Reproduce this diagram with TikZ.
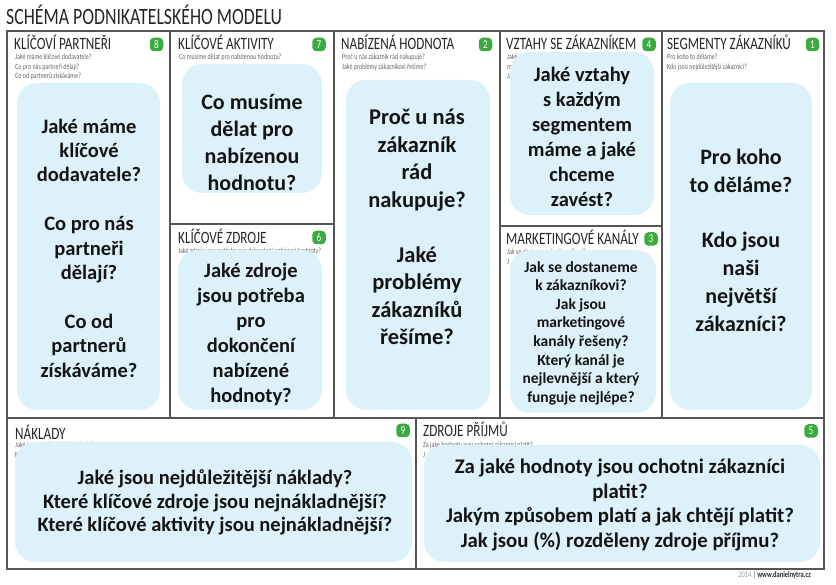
\documentclass[tikz,border=0pt]{standalone}
\usepackage{fontspec}
\setmainfont{Carlito}
\newfontfamily\uzke{Carlito}[FakeStretch=0.76]
\usepackage{xcolor}

\definecolor{modra}{RGB}{220,241,250}
\definecolor{zelena}{RGB}{59,170,65}
\definecolor{ramecsed}{RGB}{85,85,85}

\newcommand{\vel}[2]{\fontsize{#1}{#2}\selectfont}

\tikzset{
  ramec/.style={draw=ramecsed, line width=1.3pt},
  pole/.style={fill=modra, rounded corners=20pt},
  otazka/.style={align=center, inner sep=0pt, text=black!92},
  hlava/.style={anchor=base west, inner sep=0pt, text=black!85, font={\uzke\vel{17.3}{19}}},
  napoveda/.style={anchor=north west, inner sep=0pt, align=left, text=black!60, font={\uzke\vel{7.9}{9.5}}},
  cislo/.style={fill=zelena, rounded corners=4pt, text=white, minimum size=13.5pt, inner sep=0pt, font={\uzke\vel{12}{12}}}
}

\begin{document}
\begin{tikzpicture}[x=1pt, y=-1pt]
    \useasboundingbox (0,0) rectangle (836,585);

    % Nadpis
    \node[anchor=base west, inner sep=0pt, font={\uzke\vel{23.4}{23.4}}, text=black!85] (titul) at (6,25) {SCHÉMA PODNIKATELSKÉHO MODELU};

    % Ramecek a deleni
    \draw[ramec] (7,31) rectangle (824,569);
    \draw[ramec] (170,31) -- (170,418);
    \draw[ramec] (334,31) -- (334,418);
    \draw[ramec] (500,31) -- (500,418);
    \draw[ramec] (662,31) -- (662,418);
    \draw[ramec] (7,418) -- (824,418);
    \draw[ramec] (416,418) -- (416,569);
    \draw[ramec] (170,224) -- (334,224);
    \draw[ramec] (500,226) -- (662,226);

    % Male napovedy (cast schovana pod modrymi poli)
    \node[napoveda] (n8) at (15,54) {Jaké máme klíčové dodavatele?\\Co pro nás partneři dělají?\\Co od partnerů získáváme?};
    \node[napoveda] (n7) at (179,54) {Co musíme dělat pro nabízenou hodnotu?};
    \node[napoveda] (n2) at (342,54) {Proč u nás zákazník rád nakupuje?\\Jaké problémy zákazníkovi řešíme?};
    \node[napoveda] (n4) at (507,54) {Jaké vz\\má\\Jak};
    \node[napoveda] (n1) at (667,54) {Pro koho to děláme?\\Kdo jsou nejdůležitější zákazníci?};
    \node[napoveda] (n6) at (178,247.5) {Jaké zdroje jsou potřeba pro dokončení nabízené hodnoty?};
    \node[napoveda] (n3) at (507,249) {Jak se dostaneme k zákazníkovi?\\J};
    \node[napoveda] (n9) at (15,442) {Jaké jsou nejdůležitější náklady?\\K};
    \node[napoveda] (n5) at (423,442) {Za jaké hodnoty jsou ochotni zákazníci platit?\\J};

    % Modra pole
    \fill[pole] (17,83) rectangle (160,410);
    \fill[pole] (182,64) rectangle (322,193);
    \fill[pole] (178,250) rectangle (322,410);
    \fill[pole] (346,80) rectangle (490,410);
    \fill[pole] (510,52) rectangle (654,215);
    \fill[pole] (510,250) rectangle (656,413);
    \fill[pole] (670,83) rectangle (812,410);
    \fill[pole] (15,442) rectangle (412,562);
    \fill[pole] (424,445) rectangle (820,562);

    % Otazky
    \node[otazka, font={\bfseries\vel{20.5}{24.4}}] (q8) at (89,248)
      {Jaké máme\\klíčové\\dodavatele?\\[24.4pt]Co pro nás\\partneři\\dělají?\\[24.4pt]Co od\\partnerů\\získáváme?};
    \node[otazka, font={\bfseries\vel{22}{27}}] (q7) at (252,142)
      {Co musíme\\dělat pro\\nabízenou\\hodnotu?};
    \node[otazka, font={\bfseries\vel{20.5}{25}}] (q6) at (251,334)
      {Jaké zdroje\\jsou potřeba\\pro\\dokončení\\nabízené\\hodnoty?};
    \node[otazka, font={\bfseries\vel{22.5}{27.5}}] (q2) at (417,227)
      {Proč u nás\\zákazník\\rád\\nakupuje?\\[27.5pt]Jaké\\problémy\\zákazníků\\řešíme?};
    \node[otazka, font={\bfseries\vel{20.5}{25}}] (q4) at (582,137)
      {Jaké vztahy\\s každým\\segmentem\\máme a jaké\\chceme\\zavést?};
    \node[otazka, font={\bfseries\vel{15.5}{18.6}}] (q3) at (581,333)
      {Jak se dostaneme\\k zákazníkovi?\\Jak jsou\\marketingové\\kanály řešeny?\\Který kanál je\\nejlevnější a který\\funguje nejlépe?};
    \node[otazka, font={\bfseries\vel{22}{27.8}}] (q1) at (741,240)
      {Pro koho\\to děláme?\\[27.8pt]Kdo jsou\\naši\\největší\\zákazníci?};
    \node[otazka, font={\bfseries\vel{20.5}{23.5}}] (q9) at (215,502.5)
      {Jaké jsou nejdůležitější náklady?\\Které klíčové zdroje jsou nejnákladnější?\\Které klíčové aktivity jsou nejnákladnější?};
    \node[otazka, font={\bfseries\vel{20.8}{24.5}}] (q5) at (620,505)
      {Za jaké hodnoty jsou ochotni zákazníci\\platit?\\Jakým způsobem platí a jak chtějí platit?\\Jak jsou (\%) rozděleny zdroje příjmu?};

    % Nazvy bloku
    \node[hlava] (h8) at (14,50) {KLÍČOVÍ PARTNEŘI};
    \node[hlava] (h7) at (178,50) {KLÍČOVÉ AKTIVITY};
    \node[hlava] (h2) at (341,50) {NABÍZENÁ HODNOTA};
    \node[hlava] (h4) at (506,50) {VZTAHY SE ZÁKAZNÍKEM};
    \node[hlava] (h1) at (667,50) {SEGMENTY ZÁKAZNÍKŮ};
    \node[hlava] (h6) at (178,244) {KLÍČOVÉ ZDROJE};
    \node[hlava] (h3) at (506,245) {MARKETINGOVÉ KANÁLY};
    \node[hlava] (h9) at (15,439) {NÁKLADY};
    \node[hlava] (h5) at (423,437) {ZDROJE PŘÍJMŮ};

    % Zelena cisla
    \node[cislo] (c8) at (156.5,44.5) {8};
    \node[cislo] (c7) at (319,44.5) {7};
    \node[cislo] (c2) at (485.5,44.5) {2};
    \node[cislo] (c4) at (649,44.5) {4};
    \node[cislo] (c1) at (812.5,44.5) {1};
    \node[cislo] (c6) at (319,237.5) {6};
    \node[cislo] (c3) at (651,239) {3};
    \node[cislo] (c9) at (403,430.5) {9};
    \node[cislo] (c5) at (811,431) {5};

    % Paticka
    \node[anchor=base east, inner sep=0pt, font={\uzke\vel{8.5}{8.5}}] (pata) at (811,577)
      {{\color{black!40}2014} {\color{black!70}|} {\bfseries\color{black!85}www.danielnytra.cz}};
\end{tikzpicture}
\end{document}
